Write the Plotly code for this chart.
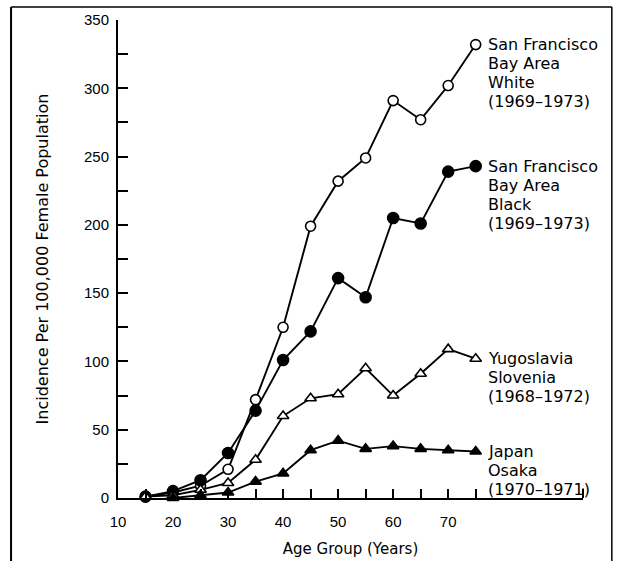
import plotly.graph_objects as go

ages = [15, 20, 25, 30, 35, 40, 45, 50, 55, 60, 65, 70, 75]
sf_white = [1, 4, 9, 21, 72, 125, 199, 232, 249, 291, 277, 302, 332]
sf_black = [1, 5, 13, 33, 64, 101, 122, 161, 147, 205, 201, 239, 243]
yugoslavia = [1, 2, 6, 11, 28, 60, 73, 76, 95, 75, 91, 109, 102]
japan = [-2, 0, 2, 4, 12, 18, 35, 42, 36, 38, 36, 35, 34]

series_labels = [
    ["San Francisco", "Bay Area", "White", "(1969–1973)"],
    ["San Francisco", "Bay Area", "Black", "(1969–1973)"],
    ["Yugoslavia", "Slovenia", "(1968–1972)"],
    ["Japan", "Osaka", "(1970–1971)"],
]
series_values = [sf_white, sf_black, yugoslavia, japan]
symbols = ["circle", "circle", "triangle-up", "triangle-up"]
fills = ["white", "black", "white", "black"]
sizes = [10, 11, 10, 10]

x_tickvals = list(range(10, 80, 5))
x_ticktext = [str(v) if v % 10 == 0 else "" for v in x_tickvals]
y_tickvals = list(range(0, 375, 25))
y_ticktext = [str(v) if v % 50 == 0 else "" for v in y_tickvals]

TICKFONT = "Liberation Sans, Arial, sans-serif"
TEXTFONT = "DejaVu Sans, sans-serif"

fig = go.Figure()
for lines, vals, sym, fc, sz in zip(series_labels, series_values, symbols, fills, sizes):
    fig.add_trace(go.Scatter(
        x=ages, y=vals, mode="lines+markers", name=" ".join(lines),
        line=dict(color="black", width=1.9),
        marker=dict(symbol=sym, size=sz, color=fc, line=dict(color="black", width=1.6)),
        cliponaxis=False, showlegend=False,
    ))
    for i, line in enumerate(lines):
        fig.add_annotation(
            x=ages[-1], y=vals[-1], text=line, showarrow=False,
            xanchor="left", yanchor="middle", align="left",
            xshift=10, yshift=-19 * i,
            font=dict(family=TEXTFONT, size=16, color="black"),
        )

fig.update_layout(
    width=619, height=561,
    margin=dict(l=118, r=36, t=20, b=63),
    paper_bgcolor="white", plot_bgcolor="white",
    font=dict(family=TICKFONT, size=15, color="black"),
    xaxis=dict(
        range=[10, 94.5], tickmode="array", tickvals=x_tickvals, ticktext=x_ticktext,
        ticks="inside", ticklen=9, tickwidth=2, tickcolor="black", ticklabelstandoff=9,
        showline=True, linecolor="black", linewidth=2, showgrid=False, zeroline=False,
        automargin=False,
        title=dict(text="Age Group (Years)", font=dict(family=TEXTFONT, size=15), standoff=14),
        tickfont=dict(family=TICKFONT, size=15),
    ),
    yaxis=dict(
        range=[0, 350], tickmode="array", tickvals=y_tickvals, ticktext=y_ticktext,
        ticks="inside", ticklen=10, tickwidth=2, tickcolor="black", ticklabelstandoff=4,
        showline=True, linecolor="black", linewidth=2, showgrid=False, zeroline=False,
        automargin=False,
        title=dict(text="Incidence Per 100,000 Female Population", font=dict(family=TEXTFONT, size=16), standoff=31),
        tickfont=dict(family=TICKFONT, size=15),
    ),
)

# outer frame of the figure
fig.add_shape(type="line", xref="paper", yref="paper", x0=-0.230, x1=-0.230, y0=1.027, y1=-0.2,
              line=dict(color="black", width=2))
fig.add_shape(type="line", xref="paper", yref="paper", x0=-0.230, x1=1.062, y0=1.027, y1=1.027,
              line=dict(color="black", width=1.5))
fig.add_shape(type="line", xref="paper", yref="paper", x0=1.062, x1=1.062, y0=1.027, y1=-0.2,
              line=dict(color="black", width=1.5))
# small upturned end of the x-axis line
fig.add_shape(type="line", xref="paper", yref="paper", x0=1.0, x1=1.0, y0=0, y1=0.02,
              line=dict(color="black", width=2))

fig.write_html("out.html")
